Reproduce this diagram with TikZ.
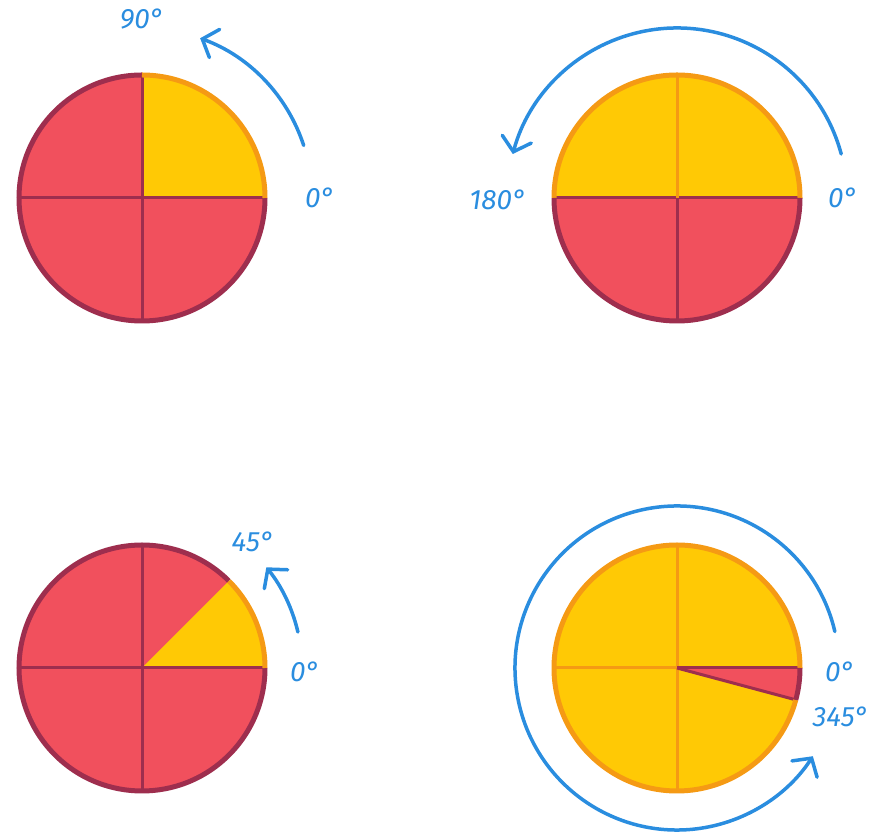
\documentclass[tikz,border=0pt]{standalone}
\usepackage{fontspec}
\newfontfamily\anglefont{Fira Sans}
\usetikzlibrary{arrows.meta}

\definecolor{pieRed}{HTML}{F1505D}
\definecolor{pieMaroon}{HTML}{9E2E4E}
\definecolor{pieYellow}{HTML}{FFC905}
\definecolor{pieOrange}{HTML}{F59A14}
\definecolor{turnBlue}{HTML}{2A8DDF}

\begin{document}
\begin{tikzpicture}[x=1pt,y=1pt,
  redrim/.style={draw=pieMaroon,line width=5pt},
  yelrim/.style={draw=pieOrange,line width=5pt},
  redline/.style={draw=pieMaroon,line width=3pt},
  yelline/.style={draw=pieOrange,line width=3pt},
  turn/.style={draw=turnBlue,line width=3.5pt,line cap=round,
    -{Straight Barb[length=13pt,width=30pt,line cap=round]}},
  angle/.style={text=turnBlue,font=\anglefont\itshape\fontsize{28}{28}\selectfont}]
  \useasboundingbox (0,0) rectangle (871,838);

  \coordinate (c1) at (142,640);
  \coordinate (c2) at (677,640);
  \coordinate (c3) at (142,170);
  \coordinate (c4) at (677,170);

  % quarter turn
  \fill[pieRed] (c1) circle[radius=123pt];
  \fill[pieYellow] (c1) -- ++(0:123pt) arc[start angle=0,end angle=90,radius=123pt] -- cycle;
  \draw[redline] (c1) ++(180:123pt) -- ++(246pt,0);
  \draw[redline] (c1) ++(90:123pt) -- ++(0,-246pt);
  \draw[redrim] (c1) ++(90:123pt) arc[start angle=90,end angle=360,radius=123pt];
  \draw[yelrim] (c1) ++(0:123pt) arc[start angle=0,end angle=90,radius=123pt];
  \draw[turn] (c1) ++(18:170pt) arc[start angle=18,end angle=70,radius=170pt];
  \node[angle] (q90) at (142,819) {90°};
  \node[angle] (q0) at (320,640) {0°};

  % half turn
  \fill[pieRed] (c2) circle[radius=123pt];
  \fill[pieYellow] (c2) ++(0:123pt) arc[start angle=0,end angle=180,radius=123pt] -- cycle;
  \draw[redline] (c2) ++(180:123pt) -- ++(246pt,0);
  \draw[yelline] (c2) -- ++(0,123pt);
  \draw[redline] (c2) -- ++(0,-123pt);
  \draw[yelrim] (c2) ++(0:123pt) arc[start angle=0,end angle=180,radius=123pt];
  \draw[redrim] (c2) ++(180:123pt) arc[start angle=180,end angle=360,radius=123pt];
  \draw[turn] (c2) ++(15:170pt) arc[start angle=15,end angle=165,radius=170pt];
  \node[angle] (h180) at (498,638) {180°};
  \node[angle] (h0) at (843,640) {0°};

  % eighth turn
  \fill[pieRed] (c3) circle[radius=123pt];
  \fill[pieYellow] (c3) -- ++(0:123pt) arc[start angle=0,end angle=45,radius=123pt] -- cycle;
  \draw[redline] (c3) ++(180:123pt) -- ++(246pt,0);
  \draw[redline] (c3) ++(90:123pt) -- ++(0,-246pt);
  \draw[redrim] (c3) ++(45:123pt) arc[start angle=45,end angle=360,radius=123pt];
  \draw[yelrim] (c3) ++(0:123pt) arc[start angle=0,end angle=45,radius=123pt];
  \draw[turn] (c3) ++(13:160pt) arc[start angle=13,end angle=39,radius=160pt];
  \node[angle] (e45) at (253,296) {45°};
  \node[angle] (e0) at (305,166) {0°};

  % almost full turn
  \fill[pieYellow] (c4) circle[radius=123pt];
  \fill[pieRed] (c4) -- ++(0:123pt) arc[start angle=0,end angle=-15,radius=123pt] -- cycle;
  \draw[yelline] (c4) -- ++(-123pt,0);
  \draw[yelline] (c4) ++(90:123pt) -- ++(0,-246pt);
  \draw[redline] (c4) -- ++(0:123pt);
  \draw[redline] (c4) -- ++(-15:123pt);
  \draw[yelrim] (c4) ++(0:123pt) arc[start angle=0,end angle=345,radius=123pt];
  \draw[redrim] (c4) ++(345:123pt) arc[start angle=345,end angle=360,radius=123pt];
  \draw[turn] (c4) ++(13:162pt) arc[start angle=13,end angle=327,radius=162pt];
  \node[angle] (f0) at (840,166) {0°};
  \node[angle,anchor=east,inner sep=1pt] (f345) at (870,121) {345°};
\end{tikzpicture}
\end{document}
